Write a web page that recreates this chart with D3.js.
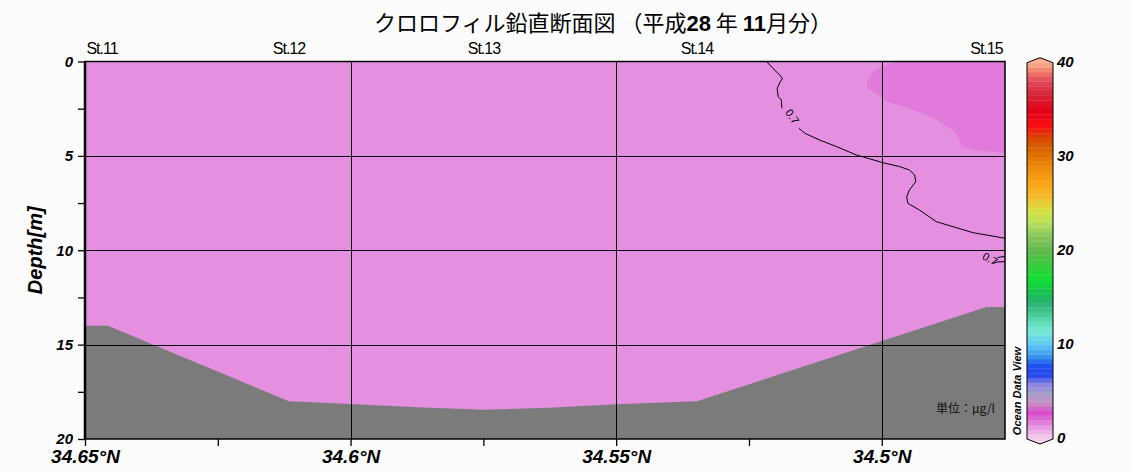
<!DOCTYPE html>
<html><head><meta charset="utf-8">
<script src="https://cdn.jsdelivr.net/npm/d3@7"></script>
<style>body{margin:0;background:#fcfcfc;} svg{display:block;}</style>
</head><body><svg id="c" width="1132" height="472"></svg>
<script>
// ---------- data ----------
const titleParts = [
  {t: "クロロフィル鉛直断面図 （平成", bold: false},
  {t: "28", bold: true},
  {t: " 年 ", bold: false},
  {t: "11", bold: true},
  {t: "月分）", bold: false}
];
const stationNames = ["St.11", "St.12", "St.13", "St.14", "St.15"];
const stationLat   = [34.6468, 34.6116, 34.5749, 34.5348, 34.4803];

const latDomain = [34.65, 34.4768];
const latMajor  = [34.65, 34.6, 34.55, 34.5];
const latMinor  = [34.625, 34.575, 34.525];
const depthMajor = [0, 5, 10, 15, 20];
const depthMinor = [2.5, 7.5, 12.5, 17.5];

// bathymetry (bottom depth along section)
const bathyLat   = [34.6500, 34.6457, 34.6116, 34.6000, 34.5875, 34.5750, 34.5625, 34.5500, 34.5348, 34.4803, 34.4768];
const bathyDepth = [14.0,    14.0,    18.0,    18.15,   18.32,   18.45,   18.35,   18.16,   18.0,    13.0,    13.0];

// field classes: background value and higher (>0.7) patch
const fieldValues = [0.62, 0.78];
const fieldColors = ["#e58fe0", "#e17adb"];
// high patch outline (lat, depth)
const patchLat   = [34.4972, 34.4981, 34.4998, 34.5013, 34.5021, 34.5027, 34.5027, 34.5017, 34.5006, 34.4998, 34.4989, 34.4970, 34.4951, 34.4932, 34.4916, 34.4897, 34.4882, 34.4867, 34.4857, 34.4853, 34.4850, 34.4825, 34.4774, 34.4768, 34.4768];
const patchDepth = [0.0,     0.08,    0.28,    0.45,    0.72,    0.98,    1.42,    1.60,    1.77,    1.95,    2.13,    2.30,    2.48,    2.66,    2.83,    3.10,    3.36,    3.63,    3.89,    4.25,    4.51,    4.69,    4.83,    4.85,    0.0];

// 0.7 contour (null = gap for label)
const contourLat   = [34.5217, 34.5205, 34.5192, 34.5187, 34.5191, 34.5197, 34.5195, 34.5189, 34.5188, null, 34.5156, 34.5145, 34.5117, 34.5085, 34.5048, 34.4998, 34.4966, 34.4948, 34.4938, 34.4936, 34.4948, 34.4953, 34.4951, 34.4929, 34.4897, 34.4866, 34.4828, 34.4791, 34.4768];
const contourDepth = [0.0,     0.36,    0.72,    0.89,    1.07,    1.42,    1.86,    2.04,    2.48,    null, 3.54,    3.80,    4.16,    4.51,    4.95,    5.36,    5.57,    5.75,    6.01,    6.37,    6.81,    7.16,    7.51,    7.87,    8.49,    8.75,    9.07,    9.25,    9.37];
const contour2Lat   = [34.4768, 34.4782, null, 34.4791, 34.4782, 34.4768];
const contour2Depth = [10.33,   10.38,   null, 10.70,   10.62,   10.60];
const contourLabels = [{lat: 34.5170, depth: 2.95, text: "0.7", angle: 55}, {lat: 34.4797, depth: 10.5, text: "0.7", angle: 30}];

// colour bar
const cbTicks = [0, 10, 20, 30, 40];
const cbStopValues = [0, 1, 2, 2.8, 3.8, 4.8, 5.8, 6.8, 7.8, 9, 10, 11.5, 13, 14.5, 15.5, 17, 18.7, 20, 21.5, 23, 24.3, 25.5, 27, 29, 30.7, 32, 33.2, 35, 36.5, 38, 39, 40];
const cbStopColors = ["#f4d4f2", "#eba8e6", "#e070d8", "#d848cc", "#c88cc4", "#a8a0cc", "#8888e0", "#2848f0", "#2050f0", "#40a0f0", "#60c8f4", "#78ecdc", "#50d0a0", "#28b070", "#18c050", "#10e030", "#40c840", "#60b850", "#88c460", "#b8e060", "#d8e040", "#f0c030", "#f8a818", "#f08808", "#d86800", "#d84800", "#f81010", "#e00018", "#d82438", "#e04858", "#f07868", "#f8b090"];

// ---------- drawing ----------
const svg = d3.select("#c");
const L = 85, R = 1005, T = 61.5, B = 439;
const x = d3.scaleLinear().domain(latDomain).range([L, R]);
const y = d3.scaleLinear().domain([0, 20]).range([T, B]);
const fieldColor = d3.scaleThreshold().domain([0.7]).range(fieldColors);
const sans = "'Liberation Sans', Arial, sans-serif";

svg.append("clipPath").attr("id", "clip").append("rect")
  .attr("x", L).attr("y", T).attr("width", R - L).attr("height", B - T);
const plot = svg.append("g").attr("clip-path", "url(#clip)");

plot.append("rect").attr("x", L).attr("y", T).attr("width", R - L).attr("height", B - T)
  .attr("fill", fieldColor(fieldValues[0]));

const pts = (la, de) => la.map((v, i) => v == null ? null : [v, de[i]]);
const line = d3.line().defined(d => d != null).x(d => x(d[0])).y(d => y(d[1]));

plot.append("path").attr("d", line(pts(patchLat, patchDepth)) + "Z")
  .attr("fill", fieldColor(fieldValues[1]));

// bottom
const bathyPts = pts(bathyLat, bathyDepth);
const bathyPoly = [[latDomain[0], 20]].concat(bathyPts).concat([[latDomain[1], 20]]);
plot.append("path").attr("d", line(bathyPoly) + "Z").attr("fill", "#7b7b7b");

// contours
[pts(contourLat, contourDepth), pts(contour2Lat, contour2Depth)].forEach(c => {
  plot.append("path").attr("d", line(c)).attr("fill", "none").attr("stroke", "#000").attr("stroke-width", 1);
});
contourLabels.forEach(l => {
  plot.append("text").attr("transform", `translate(${x(l.lat)},${y(l.depth)}) rotate(${l.angle})`)
    .attr("text-anchor", "middle").attr("dominant-baseline", "middle")
    .attr("font-family", sans).attr("font-size", 11).attr("fill", "#000").text(l.text);
});

// grid
const grid = svg.append("g").attr("stroke", "#000").attr("stroke-width", 1);
latMajor.slice(1).forEach(v => grid.append("line").attr("x1", Math.round(x(v)) + 0.5).attr("x2", Math.round(x(v)) + 0.5).attr("y1", T).attr("y2", B));
depthMajor.slice(1, -1).forEach(v => grid.append("line").attr("y1", Math.round(y(v)) + 0.5).attr("y2", Math.round(y(v)) + 0.5).attr("x1", L).attr("x2", R));

// frame
svg.append("rect").attr("x", L).attr("y", T).attr("width", R - L).attr("height", B - T)
  .attr("fill", "none").attr("stroke", "#000").attr("stroke-width", 1.5);
svg.append("line").attr("x1", L).attr("x2", L).attr("y1", T).attr("y2", B).attr("stroke", "#000").attr("stroke-width", 2.5);

// axes
const yAxis = d3.axisLeft(y).tickValues(depthMajor.concat(depthMinor)).tickSize(7).tickPadding(5)
  .tickFormat(d => depthMajor.includes(d) ? d : "");
const gy = svg.append("g").attr("transform", `translate(${L},0)`).call(yAxis);
gy.select(".domain").remove();
gy.selectAll("line").attr("stroke-width", 1.3);
gy.selectAll("text").attr("font-family", sans).attr("font-weight", "bold").attr("font-style", "italic")
  .attr("font-size", 15).attr("fill", "#000");

const xAxis = d3.axisBottom(x).tickValues(latMajor.concat(latMinor)).tickSize(7).tickPadding(4)
  .tickFormat(d => latMajor.includes(d) ? d3.format(".2~f")(d) + "°N" : "");
const gx = svg.append("g").attr("transform", `translate(0,${B})`).call(xAxis);
gx.select(".domain").remove();
gx.selectAll("line").attr("stroke-width", 1.3);
gx.selectAll("text").attr("font-family", sans).attr("font-weight", "bold").attr("font-style", "italic")
  .attr("font-size", 19).attr("fill", "#000");

svg.append("text").attr("transform", `translate(42,${(T + B) / 2}) rotate(-90)`)
  .attr("text-anchor", "middle").attr("font-family", sans).attr("font-weight", "bold")
  .attr("font-style", "italic").attr("font-size", 20).text("Depth[m]");

// station labels
const st = svg.append("g").attr("font-family", sans).attr("font-size", 16).attr("letter-spacing", -1);
stationNames.forEach((n, i) => {
  const t = st.append("text").attr("y", 54).text(n);
  const w = t.node().getComputedTextLength();
  const cx = Math.max(L + w / 2, Math.min(R - w / 2, x(stationLat[i])));
  t.attr("x", cx - w / 2);
});

// unit
svg.append("text").attr("x", 995).attr("y", 413).attr("text-anchor", "end")
  .attr("font-family", "'Noto Sans CJK JP', sans-serif").attr("font-size", 12).attr("fill", "#111")
  .text("単位：μg/l");

// colour bar
const cb = d3.scaleLinear().domain([0, 40]).range([439, 62.7]);
const cbColor = d3.scaleLinear().domain(cbStopValues).range(cbStopColors);
const cbX0 = 1027, cbX1 = 1053, cbMid = (cbX0 + cbX1) / 2;
const cbg = svg.append("g");
d3.range(0, 40, 0.5).forEach(v => {
  cbg.append("rect").attr("x", cbX0).attr("width", cbX1 - cbX0)
    .attr("y", cb(v + 0.5)).attr("height", cb(v) - cb(v + 0.5) + 0.3)
    .attr("fill", cbColor(v + 0.25));
});
cbg.append("path").attr("d", `M${cbX0},${cb(40)}L${cbMid},${cb(40) - 5}L${cbX1},${cb(40)}Z`).attr("fill", cbColor(40));
cbg.append("path").attr("d", `M${cbX0},${cb(0)}L${cbMid},${cb(0) + 5}L${cbX1},${cb(0)}Z`).attr("fill", cbColor(0));
cbg.append("path").attr("d", `M${cbX0},${cb(40)}L${cbMid},${cb(40) - 5}L${cbX1},${cb(40)}L${cbX1},${cb(0)}L${cbMid},${cb(0) + 5}L${cbX0},${cb(0)}Z`)
  .attr("fill", "none").attr("stroke", "#000").attr("stroke-width", 1);
cbTicks.forEach(v => {
  cbg.append("text").attr("x", 1057).attr("y", cb(v)).attr("dominant-baseline", "middle")
    .attr("font-family", sans).attr("font-weight", "bold").attr("font-style", "italic")
    .attr("font-size", 15).text(v);
});
svg.append("text").attr("transform", "translate(1021,391) rotate(-90)").attr("text-anchor", "middle")
  .attr("font-family", sans).attr("font-weight", "bold").attr("font-style", "italic")
  .attr("font-size", 11).text("Ocean Data View");

// title
const title = svg.append("text").attr("x", 603).attr("y", 31).attr("text-anchor", "middle")
  .attr("font-size", 22).attr("fill", "#000");
titleParts.forEach(p => {
  title.append("tspan").text(p.t)
    .attr("font-family", p.bold ? sans : "'Noto Sans CJK JP', sans-serif")
    .attr("font-weight", p.bold ? "bold" : "normal");
});
</script></body></html>
